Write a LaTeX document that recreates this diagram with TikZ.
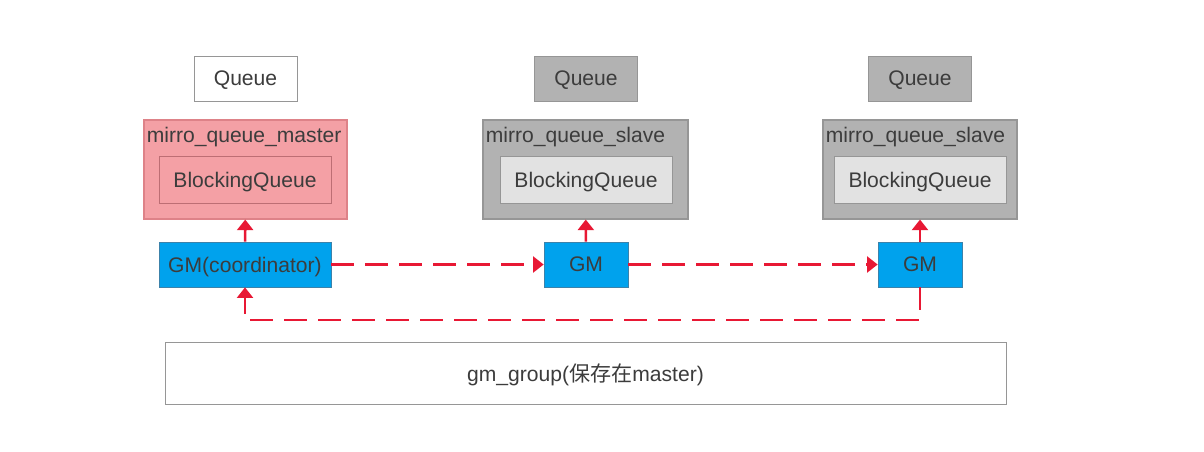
\documentclass[tikz,border=0pt]{standalone}
\usepackage{fontspec}
\setmainfont{Liberation Sans}
\newfontfamily\cjk{Noto Sans CJK SC}
\usetikzlibrary{arrows.meta}
\definecolor{linkred}{RGB}{232,24,52}
\definecolor{masterpink}{RGB}{244,160,165}
\definecolor{masterline}{RGB}{222,130,136}
\definecolor{slavegray}{RGB}{178,178,178}
\definecolor{slaveline}{RGB}{150,150,150}
\definecolor{innergray}{RGB}{226,226,226}
\definecolor{gmblue}{RGB}{0,162,237}
\definecolor{gmline}{RGB}{60,130,170}
\definecolor{textgray}{RGB}{60,60,60}
\begin{document}
\begin{tikzpicture}[
    font=\fontsize{12pt}{14pt}\selectfont,
    every node/.style={text=textgray},
    box/.style={draw, rectangle, inner sep=0pt, text depth=0pt},
    queuebox/.style={box, minimum width=2.06cm, minimum height=0.9cm},
    mirrobox/.style={box, line width=0.6pt, minimum height=1.98cm},
    innerbox/.style={box, minimum width=3.44cm, minimum height=0.94cm},
    gmbox/.style={box, draw=gmline, fill=gmblue, minimum height=0.9cm},
    link/.style={draw=linkred, line width=1.5pt, -{Triangle[width=9pt,length=6pt]}},
    dashlink/.style={link, dash pattern=on 0.46cm off 0.22cm}
  ]
  \useasboundingbox[fill=white] (0,0) rectangle (24.08,-9.02);

  % Queues
  \node[queuebox, draw=slaveline, fill=white] (q1) at (4.91,-1.57) {Queue};
  \node[queuebox, draw=slaveline, fill=slavegray] (q2) at (11.72,-1.57) {Queue};
  \node[queuebox, draw=slaveline, fill=slavegray] (q3) at (18.40,-1.57) {Queue};

  % Master (pink)
  \node[mirrobox, draw=masterline, fill=masterpink, minimum width=4.06cm] (master) at (4.91,-3.39) {};
  \node[anchor=north west, inner sep=0pt] (mastertitle) at ([shift={(0.06,-0.14)}]master.north west) {mirro\_queue\_master};
  \node[innerbox, draw=masterline!85!black, fill=masterpink] (bq1) at (4.90,-3.59) {BlockingQueue};

  % Slaves (gray)
  \node[mirrobox, draw=slaveline, fill=slavegray, minimum width=4.10cm] (slave1) at (11.71,-3.39) {};
  \node[anchor=north west, inner sep=0pt] (slavetitle1) at ([shift={(0.06,-0.14)}]slave1.north west) {mirro\_queue\_slave};
  \node[innerbox, draw=slaveline, fill=innergray] (bq2) at (11.72,-3.59) {BlockingQueue};

  \node[mirrobox, draw=slaveline, fill=slavegray, minimum width=3.88cm] (slave2) at (18.40,-3.39) {};
  \node[anchor=north west, inner sep=0pt] (slavetitle2) at ([shift={(0.06,-0.14)}]slave2.north west) {mirro\_queue\_slave};
  \node[innerbox, draw=slaveline, fill=innergray] (bq3) at (18.40,-3.59) {BlockingQueue};

  % GM nodes (blue)
  \node[gmbox, minimum width=3.44cm] (gm1) at (4.90,-5.29) {GM(coordinator)};
  \node[gmbox, minimum width=1.68cm] (gm2) at (11.72,-5.29) {GM};
  \node[gmbox, minimum width=1.68cm] (gm3) at (18.40,-5.29) {GM};

  % gm_group
  \node[box, draw=slaveline, fill=white, minimum width=16.82cm, minimum height=1.24cm] (group) at (11.71,-7.46) {gm\_group({\cjk 保存在}master)};

  % GM -> master/slave
  \draw[link] (gm1) -- (master);
  \draw[link] (gm2) -- (slave1);
  \draw[link] (gm3) -- (slave2);

  % Ring of GMs (red, dashed)
  \draw[dashlink] (gm1) -- (gm2);
  \draw[dashlink] (gm2) -- (gm3);
  \coordinate (ringend) at (18.40,-6.40);
  \draw[dashlink] (gm3.south) -- (ringend) -| (gm1.south);
\end{tikzpicture}
\end{document}
